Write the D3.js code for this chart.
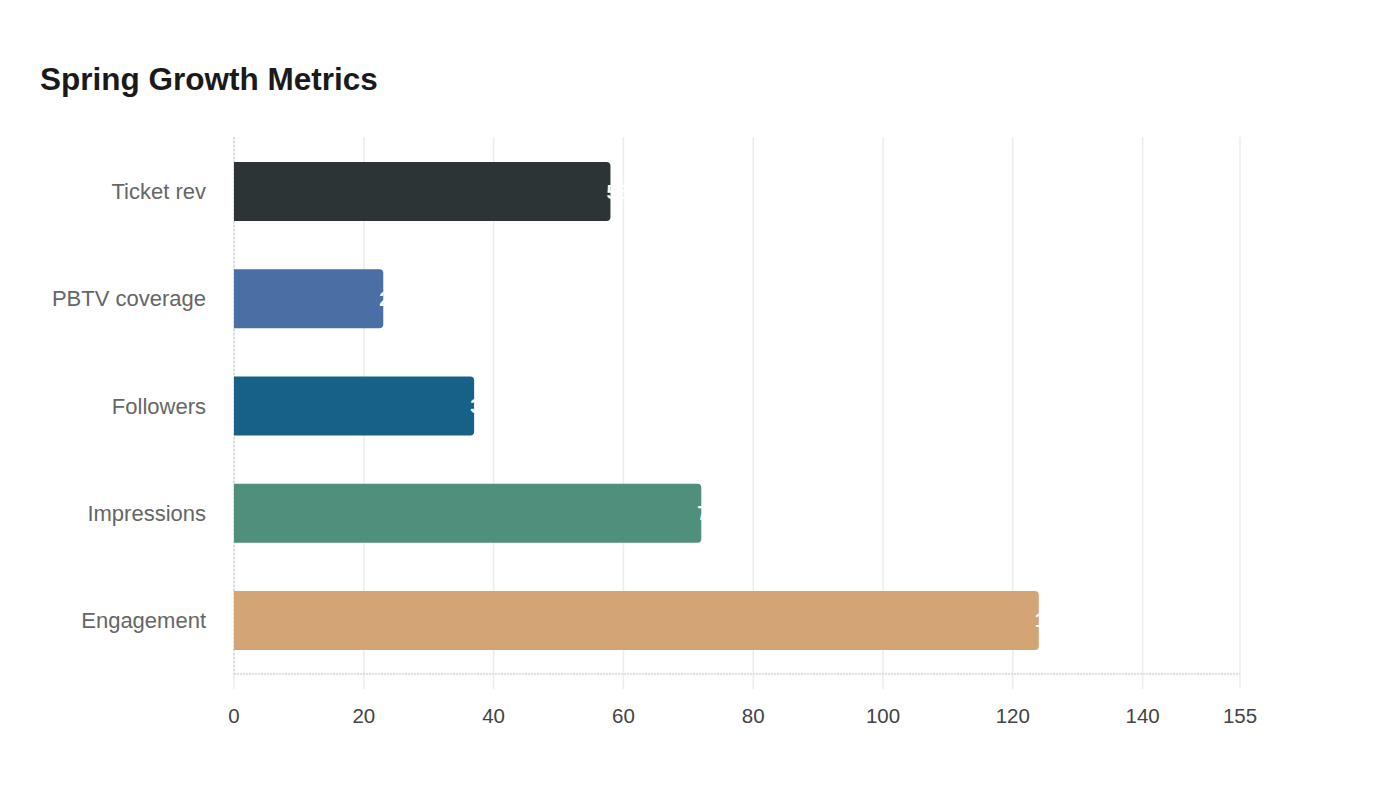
<!DOCTYPE html>
<html><head><meta charset="utf-8">
<script src="https://cdn.jsdelivr.net/npm/d3@7/dist/d3.min.js"></script>
<style>body{margin:0;background:#fff;}svg{display:block;font-family:"Liberation Sans",Arial,sans-serif;}</style>
</head><body>
<script>
const categories = ["Ticket rev", "PBTV coverage", "Followers", "Impressions", "Engagement"];
const values = [58, 23, 37, 72, 124];
const colors = ["#2d3436", "#4a6fa5", "#176087", "#4f8f7c", "#d4a574"];
const tickValues = [0, 20, 40, 60, 80, 100, 120, 140, 155];
const title = "Spring Growth Metrics";

const W = 1400, H = 800;
const m = {left: 234, right: 160, top: 138, bottom: 126};
const svg = d3.select("body").append("svg").attr("width", W).attr("height", H);

svg.append("text").attr("x", 40).attr("y", 90).text(title)
  .attr("font-size", 31.5).attr("font-weight", "bold").attr("fill", "#1a1a1a");

const x = d3.scaleLinear().domain([0, 155]).range([m.left, W - m.right]);
const y = d3.scaleBand().domain(categories).range([m.top, H - m.bottom]).paddingInner(0.45).paddingOuter(0.225);

// gridlines
svg.append("g").selectAll("line").data(tickValues).join("line")
  .attr("x1", d => x(d)).attr("x2", d => x(d))
  .attr("y1", m.top - 1).attr("y2", H - m.bottom + 15)
  .attr("stroke", "#ececec").attr("stroke-width", 1.5);

// x axis line
svg.append("line").attr("x1", m.left).attr("x2", x(155))
  .attr("y1", H - m.bottom).attr("y2", H - m.bottom)
  .attr("stroke", "#d6d6d6").attr("stroke-width", 1.5).attr("stroke-dasharray", "2,1");
// y axis line
svg.append("line").attr("x1", m.left).attr("x2", m.left)
  .attr("y1", m.top - 1).attr("y2", H - m.bottom)
  .attr("stroke", "#c8c8c8").attr("stroke-width", 1).attr("stroke-dasharray", "2,2");

// bars with rounded right corners
const r = 4;
function barPath(x0, x1, y0, h) {
  const w = x1 - x0;
  const rr = Math.min(r, w / 2);
  return `M${x0},${y0}H${x1 - rr}Q${x1},${y0} ${x1},${y0 + rr}V${y0 + h - rr}Q${x1},${y0 + h} ${x1 - rr},${y0 + h}H${x0}Z`;
}
svg.append("g").selectAll("path").data(categories).join("path")
  .attr("d", (c, i) => barPath(x(0), x(values[i]), y(c), y.bandwidth()))
  .attr("fill", (c, i) => colors[i]);

// value labels (white, mostly invisible beyond bar end)
svg.append("g").selectAll("text").data(categories).join("text")
  .attr("x", (c, i) => x(values[i]) - 4)
  .attr("y", c => y(c) + y.bandwidth() / 2)
  .attr("dominant-baseline", "central")
  .attr("font-size", 20).attr("font-weight", "bold").attr("fill", "#fff")
  .text((c, i) => values[i]);

// category labels
svg.append("g").selectAll("text").data(categories).join("text")
  .attr("x", m.left - 28).attr("y", c => y(c) + y.bandwidth() / 2)
  .attr("text-anchor", "end").attr("dominant-baseline", "central")
  .attr("font-size", 22).attr("fill", "#666").text(c => c);

// tick labels
svg.append("g").selectAll("text").data(tickValues).join("text")
  .attr("x", d => x(d)).attr("y", 715)
  .attr("text-anchor", "middle").attr("dominant-baseline", "central")
  .attr("font-size", 20.5).attr("fill", "#444").text(d => d);
</script>
</body></html>
